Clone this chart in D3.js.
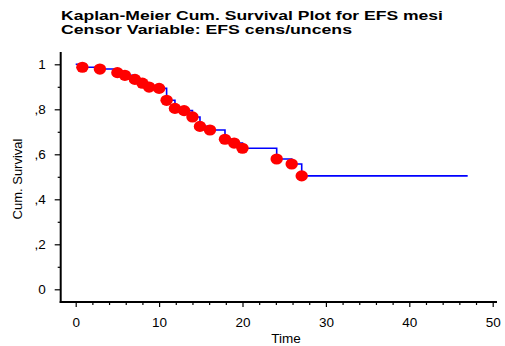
<!DOCTYPE html>
<html><head><meta charset="utf-8">
<script src="https://cdn.jsdelivr.net/npm/d3@7"></script>
<style>body{margin:0;background:#fff}svg{display:block;font-family:"Liberation Sans",Arial,sans-serif}</style>
</head><body>
<script>
const titleLines = ["Kaplan-Meier Cum. Survival Plot for EFS mesi", "Censor Variable: EFS cens/uncens"];
const xLabel = "Time";
const yLabel = "Cum. Survival";
const eventTimes = [0.8, 2.9, 5.0, 5.9, 7.1, 8.0, 8.8, 10.0, 10.9, 11.9, 13.0, 14.0, 14.9, 16.1, 17.9, 19.0, 20.0, 24.1, 25.9, 27.1];
const survival   = [0.987, 0.979, 0.963, 0.951, 0.933, 0.916, 0.899, 0.893, 0.84, 0.804, 0.794, 0.766, 0.724, 0.708, 0.667, 0.65, 0.627, 0.579, 0.557, 0.504];
const lastTime = 47;
const xTicks = [0, 10, 20, 30, 40, 50];
const xMinorTicks = [2,4,6,8,12,14,16,18,22,24,26,28,32,34,36,38,42,44,46,48];
const yTicks = [0, 0.2, 0.4, 0.6, 0.8, 1];
const yTickLabels = ["0", ",2", ",4", ",6", ",8", "1"];
const yMinorTicks = [0.1, 0.3, 0.5, 0.7, 0.9];

const W = 505, H = 346;
const svg = d3.select("body").append("svg").attr("width", W).attr("height", H);
const x = d3.scaleLinear().domain([0, 50]).range([75.7, 492.7]);
const y = d3.scaleLinear().domain([0, 1]).range([289.3, 64.3]);
const axX = 60.7, axY = 302;

// titles
svg.selectAll("text.title").data(titleLines).join("text")
  .attr("class", "title")
  .attr("x", 61).attr("y", (d, i) => 20.3 + i * 13.7)
  .attr("font-size", 12.3).attr("font-weight", "bold")
  .attr("textLength", (d, i) => i === 0 ? 382 : 291)
  .attr("lengthAdjust", "spacingAndGlyphs")
  .text(d => d);

// x axis
const gx = svg.append("g").attr("transform", `translate(0,${axY})`);
gx.call(d3.axisBottom(x).tickValues(xTicks).tickSize(5).tickPadding(10.5).tickFormat(d3.format("d")));
gx.append("g").call(d3.axisBottom(x).tickValues(xMinorTicks).tickSize(3).tickFormat(""));
gx.selectAll(".domain").remove();
gx.selectAll("line").attr("stroke", "#000").attr("stroke-width", 1.2);
gx.selectAll("text").attr("font-size", 13.5).attr("fill", "#000").attr("font-family", "Liberation Sans, Arial, sans-serif");

// y axis
const gy = svg.append("g").attr("transform", `translate(${axX},0)`);
gy.call(d3.axisLeft(y).tickValues(yTicks).tickSize(6).tickPadding(9).tickFormat((d, i) => yTickLabels[i]));
gy.append("g").call(d3.axisLeft(y).tickValues(yMinorTicks).tickSize(3).tickFormat(""));
gy.selectAll(".domain").remove();
gy.selectAll("line").attr("stroke", "#000").attr("stroke-width", 1.2);
gy.selectAll("text").attr("font-size", 13.5).attr("fill", "#000").attr("font-family", "Liberation Sans, Arial, sans-serif");

// axis lines
svg.append("line").attr("x1", axX).attr("x2", axX).attr("y1", 52).attr("y2", axY + 1)
  .attr("stroke", "#000").attr("stroke-width", 2);
svg.append("line").attr("x1", axX - 1).attr("x2", 497).attr("y1", axY).attr("y2", axY)
  .attr("stroke", "#000").attr("stroke-width", 2);

// axis labels
svg.append("text").attr("x", 286).attr("y", 343).attr("text-anchor", "middle")
  .attr("font-size", 13.5).text(xLabel);
svg.append("text").attr("transform", "translate(22,179) rotate(-90)").attr("text-anchor", "middle")
  .attr("font-size", 13).text(yLabel);

// step line
const pts = [[0, 1]].concat(eventTimes.map((t, i) => [t, survival[i]]));
pts.push([lastTime, survival[survival.length - 1]]);
const line = d3.line().x(d => x(d[0])).y(d => y(d[1])).curve(d3.curveStepAfter);
svg.append("path").attr("d", line(pts)).attr("fill", "none")
  .attr("stroke", "#0000ff").attr("stroke-width", 1.6);

// dots
svg.selectAll("ellipse.dot").data(eventTimes).join("ellipse")
  .attr("class", "dot")
  .attr("cx", d => x(d)).attr("cy", (d, i) => y(survival[i]))
  .attr("rx", 6.2).attr("ry", 5.6).attr("fill", "#ff0000");
</script>
</body></html>
